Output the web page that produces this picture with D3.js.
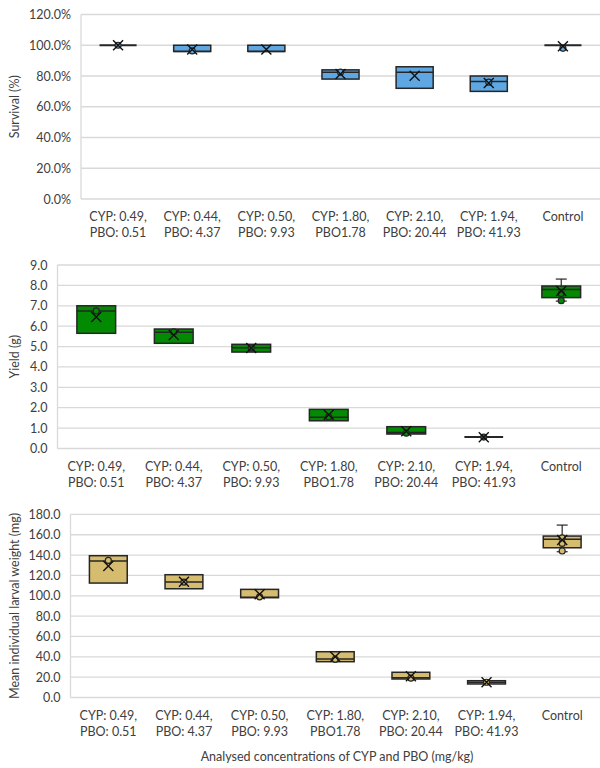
<!DOCTYPE html>
<html>
<head>
<meta charset="utf-8">
<script src="https://cdn.jsdelivr.net/npm/d3@7/dist/d3.min.js"></script>
<style>
  html, body { margin: 0; padding: 0; background: #fff; }
  svg { display: block; }
  text { font-family: Lato, "Liberation Sans", sans-serif; fill: #404040; }
</style>
</head>
<body>
<svg id="chart" width="600" height="768"></svg>
<script>
// Treatment groups (analysed concentrations, mg/kg)
const categories = [
  ["CYP: 0.49,", "PBO: 0.51"],
  ["CYP: 0.44,", "PBO: 4.37"],
  ["CYP: 0.50,", "PBO: 9.93"],
  ["CYP: 1.80,", "PBO1.78"],
  ["CYP: 2.10,", "PBO: 20.44"],
  ["CYP: 1.94,", "PBO: 41.93"],
  ["Control"]
];

// Survival (%)
const survivalMin    = [100, 96, 96, 78, 72, 70, 100];
const survivalQ1     = [100, 96, 96, 78, 72, 70, 100];
const survivalMedian = [100, 96, 96, 82.5, 82.5, 76.5, 100];
const survivalQ3     = [100, 100, 100, 84, 86, 80, 100];
const survivalMax    = [100, 100, 100, 84, 86, 80, 100];
const survivalMean   = [100, 97.3, 97.3, 81.3, 80.2, 75.5, 99.4];
const survivalPoints = [[100], [96.3], [], [82.5], [], [76], [98]];
const survivalTicks  = [0, 20, 40, 60, 80, 100, 120];

// Yield (g)
const yieldMin    = [5.65, 5.16, 4.73, 1.36, 0.71, 0.56, 7.23];
const yieldQ1     = [5.65, 5.16, 4.73, 1.36, 0.71, 0.56, 7.40];
const yieldMedian = [6.75, 5.70, 4.94, 1.53, 0.78, 0.56, 7.80];
const yieldQ3     = [7.00, 5.86, 5.11, 1.92, 1.07, 0.56, 7.97];
const yieldMax    = [7.00, 5.86, 5.11, 1.92, 1.07, 0.56, 8.31];
const yieldMean   = [6.45, 5.57, 4.93, 1.65, 0.85, 0.55, 7.72];
const yieldPoints = [[6.75], [5.72], [4.94], [1.55], [0.75], [0.56], [7.6, 7.25]];
const yieldTicks  = [0, 1, 2, 3, 4, 5, 6, 7, 8, 9];

// Mean individual larval weight (mg)
const larvalMin    = [112.5, 106.9, 98.1, 35.2, 18.2, 13.3, 143.3];
const larvalQ1     = [112.5, 106.9, 98.1, 35.2, 18.2, 13.3, 147.2];
const larvalMedian = [134.2, 113.5, 98.5, 37.8, 19.5, 15.0, 155.5];
const larvalQ3     = [139.4, 120.7, 106.3, 45.0, 24.8, 16.5, 158.7];
const larvalMax    = [139.4, 120.7, 106.3, 45.0, 24.8, 16.5, 169.5];
const larvalMean   = [129.2, 113.8, 101.4, 40.1, 21.0, 15.0, 154.8];
const larvalPoints = [[134.8], [113.5], [99], [37.5], [19], [15], [157, 151.5, 144]];
const larvalTicks  = [0, 20, 40, 60, 80, 100, 120, 140, 160, 180];

const svg = d3.select("#chart");

function panel(opts) {
  const { left, right, top, bottom, domain, ticks, fmt, fill, title,
          min, q1, med, q3, max, mean, points } = opts;
  const g = svg.append("g");
  const x = d3.scaleBand().domain(d3.range(categories.length)).range([left, right]).paddingInner(0).paddingOuter(0);
  const y = d3.scaleLinear().domain(domain).range([bottom, top]);

  // horizontal gridlines
  g.append("g").selectAll("line").data(ticks).join("line")
    .attr("x1", left).attr("x2", right)
    .attr("y1", d => y(d)).attr("y2", d => y(d))
    .attr("stroke", "#d9d9d9").attr("stroke-width", 1.3);

  // left axis line
  g.append("line").attr("x1", left).attr("x2", left).attr("y1", top).attr("y2", bottom)
    .attr("stroke", "#d9d9d9").attr("stroke-width", 1.3);

  // y tick labels
  const yAxis = d3.axisLeft(y).tickValues(ticks).tickFormat(fmt).tickSize(0).tickPadding(10);
  const ag = g.append("g").attr("transform", `translate(${left},0)`).call(yAxis);
  ag.select(".domain").remove();
  ag.selectAll("text").style("font-size", "12.5px").attr("fill", "#404040")
    .style("font-family", "Lato, 'Liberation Sans', sans-serif");

  // y axis title
  g.append("text")
    .attr("transform", `translate(19,${(top + bottom) / 2}) rotate(-90)`)
    .attr("text-anchor", "middle").style("font-size", "12.5px").text(title);

  // x category labels
  const xl = g.append("g").selectAll("text").data(categories).join("text")
    .attr("x", (d, i) => x(i) + x.bandwidth() / 2)
    .attr("y", bottom + 22)
    .attr("text-anchor", "middle").style("font-size", "12.5px");
  xl.selectAll("tspan").data(d => d).join("tspan")
    .attr("x", function () { return d3.select(this.parentNode).attr("x"); })
    .attr("dy", (d, i) => i === 0 ? 0 : 16)
    .text(d => d);

  const bw = x.bandwidth() * 0.5;
  const cap = 11;
  const stroke = "#262626";
  categories.forEach((c, i) => {
    const cx = x(i) + x.bandwidth() / 2;
    const bg = g.append("g");
    // whiskers
    if (max[i] > q3[i]) {
      bg.append("line").attr("x1", cx).attr("x2", cx).attr("y1", y(q3[i])).attr("y2", y(max[i]))
        .attr("stroke", stroke).attr("stroke-width", 1.2);
      bg.append("line").attr("x1", cx - cap / 2).attr("x2", cx + cap / 2).attr("y1", y(max[i])).attr("y2", y(max[i]))
        .attr("stroke", stroke).attr("stroke-width", 1.2);
    }
    if (min[i] < q1[i]) {
      bg.append("line").attr("x1", cx).attr("x2", cx).attr("y1", y(q1[i])).attr("y2", y(min[i]))
        .attr("stroke", stroke).attr("stroke-width", 1.2);
      bg.append("line").attr("x1", cx - cap / 2).attr("x2", cx + cap / 2).attr("y1", y(min[i])).attr("y2", y(min[i]))
        .attr("stroke", stroke).attr("stroke-width", 1.2);
    }
    // box
    const h = Math.max(y(q1[i]) - y(q3[i]), 0);
    if (h > 0.5) {
      bg.append("rect").attr("x", cx - bw / 2).attr("y", y(q3[i])).attr("width", bw).attr("height", h)
        .attr("fill", fill).attr("stroke", stroke).attr("stroke-width", 1.5);
    }
    // median
    bg.append("line").attr("x1", cx - bw / 2).attr("x2", cx + bw / 2)
      .attr("y1", y(med[i])).attr("y2", y(med[i]))
      .attr("stroke", stroke).attr("stroke-width", h > 0.5 ? 1.5 : 2);
    // inner points
    bg.selectAll("circle").data(points[i]).join("circle")
      .attr("cx", cx).attr("cy", d => y(d)).attr("r", 3)
      .attr("fill", fill).attr("stroke", stroke).attr("stroke-width", 1.2);
    // mean marker
    const m = 5, my = y(mean[i]);
    bg.append("path")
      .attr("d", `M${cx - m},${my - m}L${cx + m},${my + m}M${cx - m},${my + m}L${cx + m},${my - m}`)
      .attr("stroke", "#111").attr("stroke-width", 1.4).attr("fill", "none");
  });
}

panel({
  left: 81, right: 600, top: 14.5, bottom: 199, domain: [0, 120],
  ticks: survivalTicks, fmt: d => d.toFixed(1) + "%", fill: "#5ea7e2", title: "Survival (%)",
  min: survivalMin, q1: survivalQ1, med: survivalMedian, q3: survivalQ3, max: survivalMax,
  mean: survivalMean, points: survivalPoints
});

panel({
  left: 57.5, right: 600, top: 265, bottom: 448.5, domain: [0, 9],
  ticks: yieldTicks, fmt: d => d.toFixed(1), fill: "#038a03", title: "Yield (g)",
  min: yieldMin, q1: yieldQ1, med: yieldMedian, q3: yieldQ3, max: yieldMax,
  mean: yieldMean, points: yieldPoints
});

panel({
  left: 70.5, right: 600, top: 514.4, bottom: 697.5, domain: [0, 180],
  ticks: larvalTicks, fmt: d => d.toFixed(1), fill: "#d6bc6e", title: "Mean individual larval weight (mg)",
  min: larvalMin, q1: larvalQ1, med: larvalMedian, q3: larvalQ3, max: larvalMax,
  mean: larvalMean, points: larvalPoints
});

// shared x axis title
svg.append("text").attr("x", 337).attr("y", 761)
  .attr("text-anchor", "middle").style("font-size", "12.5px")
  .text("Analysed concentrations of CYP and PBO (mg/kg)");
</script>
</body>
</html>
